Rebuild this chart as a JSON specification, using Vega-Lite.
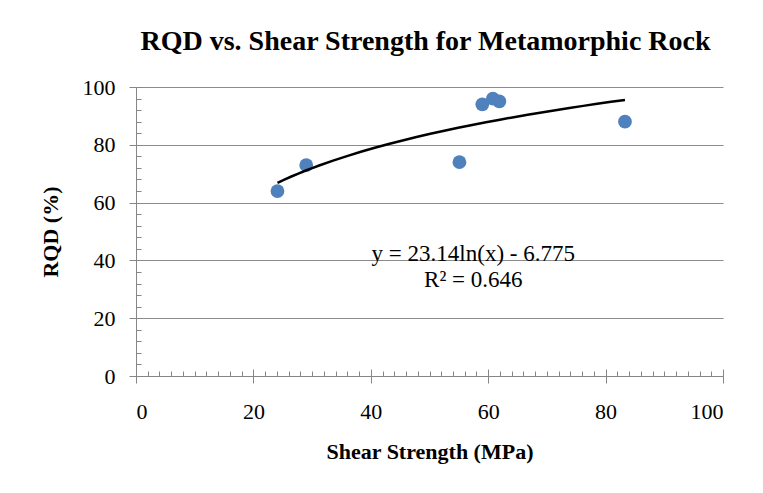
{
  "$schema": "https://vega.github.io/schema/vega-lite/v6.json",
  "width": 587,
  "height": 289,
  "autosize": {"type": "none"},
  "padding": {"left": 136, "top": 87, "right": 40, "bottom": 117},
  "background": "white",
  "title": {
    "text": "RQD vs. Shear Strength for Metamorphic Rock",
    "font": "Liberation Serif",
    "fontSize": 28,
    "fontWeight": "bold",
    "color": "black",
    "anchor": "middle",
    "offset": 20,
    "dx": -4
  },
  "data": {
    "values": [
      {"shear": 24.1, "rqd": 64},
      {"shear": 29.0, "rqd": 73},
      {"shear": 55.1, "rqd": 74},
      {"shear": 59.0, "rqd": 94},
      {"shear": 60.8, "rqd": 96},
      {"shear": 61.9, "rqd": 95},
      {"shear": 83.3, "rqd": 88}
    ]
  },
  "config": {
    "view": {"stroke": null},
    "axis": {
      "labelFont": "Liberation Serif",
      "titleFont": "Liberation Serif",
      "labelColor": "black",
      "titleColor": "black",
      "tickColor": "#868686",
      "domainColor": "#868686",
      "gridColor": "#8c8c8c",
      "tickWidth": 1,
      "domainWidth": 1,
      "gridWidth": 1
    }
  },
  "resolve": {"axis": {"x": "independent", "y": "independent"}},
  "layer": [
    {
      "mark": {"type": "point", "filled": true, "color": "#4f81bd", "size": 190, "opacity": 1},
      "encoding": {
        "x": {
          "field": "shear",
          "type": "quantitative",
          "scale": {"domain": [0, 100], "nice": false},
          "axis": {
            "orient": "bottom",
            "values": [0, 20, 40, 60, 80, 100],
            "tickSize": 7,
            "labelFontSize": 22,
            "labelPadding": 18,
            "title": "Shear Strength (MPa)",
            "titleFontSize": 22,
            "titleFontWeight": "bold",
            "titlePadding": 19,
            "grid": false
          }
        },
        "y": {
          "field": "rqd",
          "type": "quantitative",
          "scale": {"domain": [0, 100], "nice": false},
          "axis": {
            "orient": "left",
            "values": [0, 20, 40, 60, 80, 100],
            "tickSize": 7,
            "labelFontSize": 22,
            "labelPadding": 14,
            "title": "RQD (%)",
            "titleFontSize": 22,
            "titleFontWeight": "bold",
            "titlePadding": 20,
            "grid": true
          }
        }
      }
    },
    {
      "transform": [{"regression": "rqd", "on": "shear", "method": "log"}],
      "mark": {"type": "line", "color": "black", "strokeWidth": 2.5},
      "encoding": {
        "x": {
          "field": "shear",
          "type": "quantitative",
          "axis": {
            "orient": "bottom",
            "values": [0,2,4,6,8,10,12,14,16,18,20,22,24,26,28,30,32,34,36,38,40,42,44,46,48,50,52,54,56,58,60,62,64,66,68,70,72,74,76,78,80,82,84,86,88,90,92,94,96,98,100],
            "tickSize": -5,
            "labels": false,
            "domain": false,
            "title": null,
            "grid": false
          }
        },
        "y": {
          "field": "rqd",
          "type": "quantitative",
          "axis": {
            "orient": "left",
            "values": [0,4,8,12,16,20,24,28,32,36,40,44,48,52,56,60,64,68,72,76,80,84,88,92,96,100],
            "tickSize": -5,
            "labels": false,
            "domain": false,
            "title": null,
            "grid": false
          }
        }
      }
    },
    {
      "data": {"values": [{"label": "trend"}]},
      "mark": {
        "type": "text",
        "text": ["y = 23.14ln(x) - 6.775", "R² = 0.646"],
        "font": "Liberation Serif",
        "fontSize": 23,
        "fontWeight": "normal",
        "lineHeight": 26,
        "fill": "black",
        "align": "center",
        "baseline": "middle"
      },
      "encoding": {
        "x": {
          "datum": 57.46,
          "type": "quantitative",
          "axis": {
            "orient": "bottom",
            "values": [0, 20, 40, 60, 80, 100],
            "tickSize": -7,
            "labels": false,
            "domain": false,
            "title": null,
            "grid": false
          }
        },
        "y": {"datum": 42.1, "type": "quantitative", "axis": null}
      }
    }
  ]
}
